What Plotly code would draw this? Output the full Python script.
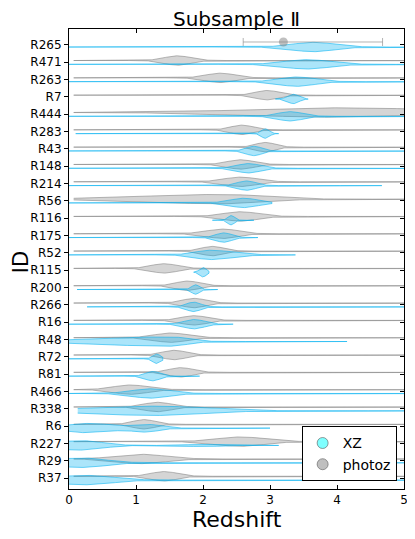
import numpy as np
import plotly.graph_objects as go

# IDs, top to bottom
ids = ["R265", "R471", "R263", "R7", "R444", "R283", "R43", "R148", "R214", "R56",
       "R116", "R175", "R52", "R115", "R200", "R266", "R16", "R48", "R72", "R81",
       "R466", "R338", "R6", "R227", "R29", "R37"]

# XZ redshift distributions (peak, left/right spread, min, max)
xz_peak = [3.65, 3.55, 3.40, 3.35, 3.30, 2.93, 2.76, 2.68, 2.65, 2.61,
           2.42, 2.31, 2.11, 2.00, 1.89, 1.86, 1.87, 1.52, 1.31, 1.25,
           1.22, 1.30, 0.30, 0.20, 0.20, 0.25]
xz_sig_lo = [0.32, 0.34, 0.27, 0.08, 0.19, 0.06, 0.12, 0.18, 0.14, 0.21,
             0.05, 0.12, 0.23, 0.05, 0.06, 0.11, 0.15, 1.10, 0.06, 0.11,
             0.28, 1.00, 0.35, 0.50, 0.50, 0.50]
xz_sig_hi = [0.32, 0.34, 0.27, 0.08, 0.19, 0.06, 0.12, 0.18, 0.14, 0.21,
             0.05, 0.12, 0.33, 0.05, 0.06, 0.11, 0.15, 0.25, 0.06, 0.11,
             0.28, 0.70, 0.35, 0.30, 0.35, 0.40]
xz_min = [0.00, 0.00, 0.00, 3.08, 0.00, 0.10, 0.00, 0.00, 0.00, 0.00,
          2.14, 0.00, 0.00, 1.86, 0.12, 0.27, 0.00, 0.00, 0.00, 0.00,
          0.00, 0.13, 0.00, 0.00, 0.00, 0.00]
xz_max = [6.00, 6.00, 6.00, 3.57, 6.00, 3.13, 6.00, 6.00, 4.67, 3.03,
          2.76, 2.82, 3.38, 2.09, 2.22, 6.00, 2.45, 4.15, 1.40, 1.95,
          6.00, 6.00, 3.00, 3.13, 6.00, 6.00]
# secondary bump (amplitude 0 = none)
xz_peak2 = [0] * 22 + [1.15, 2.00, 0, 0]
xz_sig2 = [0.1] * 22 + [0.20, 0.25, 0.1, 0.1]
xz_amp2 = [0] * 22 + [0.80, 0.25, 0, 0]

# photoz redshift distributions (R265 has a single estimate instead)
pz_peak = [None, 1.62, 2.26, 2.96, 4.00, 2.58, 2.93, 2.56, 2.56, 2.30,
           2.56, 2.31, 2.14, 1.42, 1.77, 1.87, 1.87, 1.52, 1.57, 1.67,
           0.92, 1.32, 1.12, 2.56, 1.07, 1.42]
pz_sig_lo = [None, 0.20, 0.22, 0.18, 1.30, 0.17, 0.15, 0.20, 0.25, 1.20,
             0.26, 0.26, 0.17, 0.20, 0.18, 0.18, 0.20, 0.25, 0.18, 0.18,
             0.26, 0.21, 0.17, 0.36, 0.37, 0.20]
pz_sig_hi = [None, 0.20, 0.22, 0.18, 1.50, 0.17, 0.15, 0.20, 0.25, 0.60,
             0.26, 0.22, 0.17, 0.20, 0.18, 0.18, 0.20, 0.25, 0.18, 0.18,
             0.26, 0.21, 0.17, 0.36, 0.37, 0.20]
pz_min = [None] + [0.07] * 25
pz_max = [None] + [6.00] * 25

r265_pz = 3.20
r265_pz_lo = 2.60
r265_pz_hi = 4.68

HALF_W = 0.27
n = len(ids)
pos = [n - i for i in range(n)]

XZ_FILL = "rgba(0,176,240,0.33)"
XZ_LINE = "rgba(0,176,240,0.55)"
PZ_FILL = "rgba(128,128,128,0.33)"
PZ_LINE = "rgba(128,128,128,0.55)"


def profile(peak, slo, shi, lo, hi, p2=0, s2=0.1, a2=0):
    xs = np.linspace(lo, hi, 400)
    sig = np.where(xs < peak, slo, shi)
    d = np.exp(-0.5 * ((xs - peak) / sig) ** 2)
    if a2:
        d = d + a2 * np.exp(-0.5 * ((xs - p2) / s2) ** 2)
    return xs, d / d.max()


def violin(xs, d, yc, fill, line):
    x = np.concatenate([xs, xs[::-1]])
    y = np.concatenate([yc + HALF_W * d, (yc - HALF_W * d)[::-1]])
    return go.Scatter(x=x, y=y, mode="lines", fill="toself", fillcolor=fill,
                      line=dict(color=line, width=1), showlegend=False,
                      hoverinfo="skip")


fig = go.Figure()

for i in range(n):
    if pz_peak[i] is not None:
        xs, d = profile(pz_peak[i], pz_sig_lo[i], pz_sig_hi[i], pz_min[i], pz_max[i])
        fig.add_trace(violin(xs, d, pos[i] + 0.10, PZ_FILL, PZ_LINE))
    xs, d = profile(xz_peak[i], xz_sig_lo[i], xz_sig_hi[i], xz_min[i], xz_max[i],
                    xz_peak2[i], xz_sig2[i], xz_amp2[i])
    fig.add_trace(violin(xs, d, pos[i] - 0.12, XZ_FILL, XZ_LINE))

# single photoz estimate with error bar
fig.add_trace(go.Scatter(
    x=[r265_pz], y=[pos[0] + 0.17], mode="markers",
    marker=dict(size=9, color="rgba(128,128,128,0.5)", line=dict(width=0)),
    error_x=dict(type="data", symmetric=False, array=[r265_pz_hi - r265_pz],
                 arrayminus=[r265_pz - r265_pz_lo], color="rgba(128,128,128,0.6)",
                 thickness=1, width=4),
    showlegend=False, hoverinfo="skip"))

# legend entries
fig.add_trace(go.Scatter(x=[None], y=[None], mode="markers", name="XZ",
                         marker=dict(size=11, color="rgba(0,255,255,0.5)",
                                     line=dict(color="rgba(90,90,90,0.6)", width=1))))
fig.add_trace(go.Scatter(x=[None], y=[None], mode="markers", name="photoz",
                         marker=dict(size=11, color="rgba(128,128,128,0.5)",
                                     line=dict(color="rgba(90,90,90,0.6)", width=1))))

# dummy trace for right-hand tick axis
fig.add_trace(go.Scatter(x=[None], y=[None], yaxis="y2", showlegend=False))

yrange = [0.365, 26.92]
fig.update_layout(
    # page body has an 8px margin, so the figure is sized to fit the window
    width=407, height=531,
    margin=dict(l=61, r=11, t=21, b=50, autoexpand=False),
    paper_bgcolor="white", plot_bgcolor="white",
    font=dict(family="DejaVu Sans", size=12, color="black"),
    title=dict(text="Subsample Ⅱ", x=0.5, xref="paper", xanchor="center",
               y=0.980, yref="container", yanchor="middle", font=dict(size=20)),
    xaxis=dict(range=[0, 5], tickvals=[0, 1, 2, 3, 4, 5], ticks="inside",
               ticklen=4, tickcolor="black", mirror="ticks", showline=True,
               linecolor="black", linewidth=1, showgrid=False, zeroline=False,
               automargin=False),
    yaxis=dict(range=yrange, tickvals=pos, ticktext=ids, ticks="outside",
               ticklen=4, tickcolor="black", mirror=True, showline=True,
               linecolor="black", linewidth=1, showgrid=False, zeroline=False,
               automargin=False),
    yaxis2=dict(range=yrange, tickvals=pos, ticks="inside", ticklen=4,
                tickcolor="black", showticklabels=False, overlaying="y",
                side="right", showgrid=False, zeroline=False, showline=False,
                automargin=False),
    legend=dict(x=0.978, xanchor="right", y=0.0165, yanchor="bottom",
                bgcolor="white", bordercolor="black", borderwidth=1,
                font=dict(size=14), itemsizing="trace",
                entrywidth=78, entrywidthmode="pixels"),
    annotations=[
        dict(text="Redshift", xref="paper", yref="paper", x=0.5, y=-0.067,
             xanchor="center", yanchor="middle", showarrow=False,
             font=dict(size=22)),
        dict(text="ID", xref="paper", yref="paper", x=-0.143, y=0.493,
             xanchor="center", yanchor="middle", textangle=-90,
             showarrow=False, font=dict(size=21)),
    ],
)

fig.write_html("out.html")
